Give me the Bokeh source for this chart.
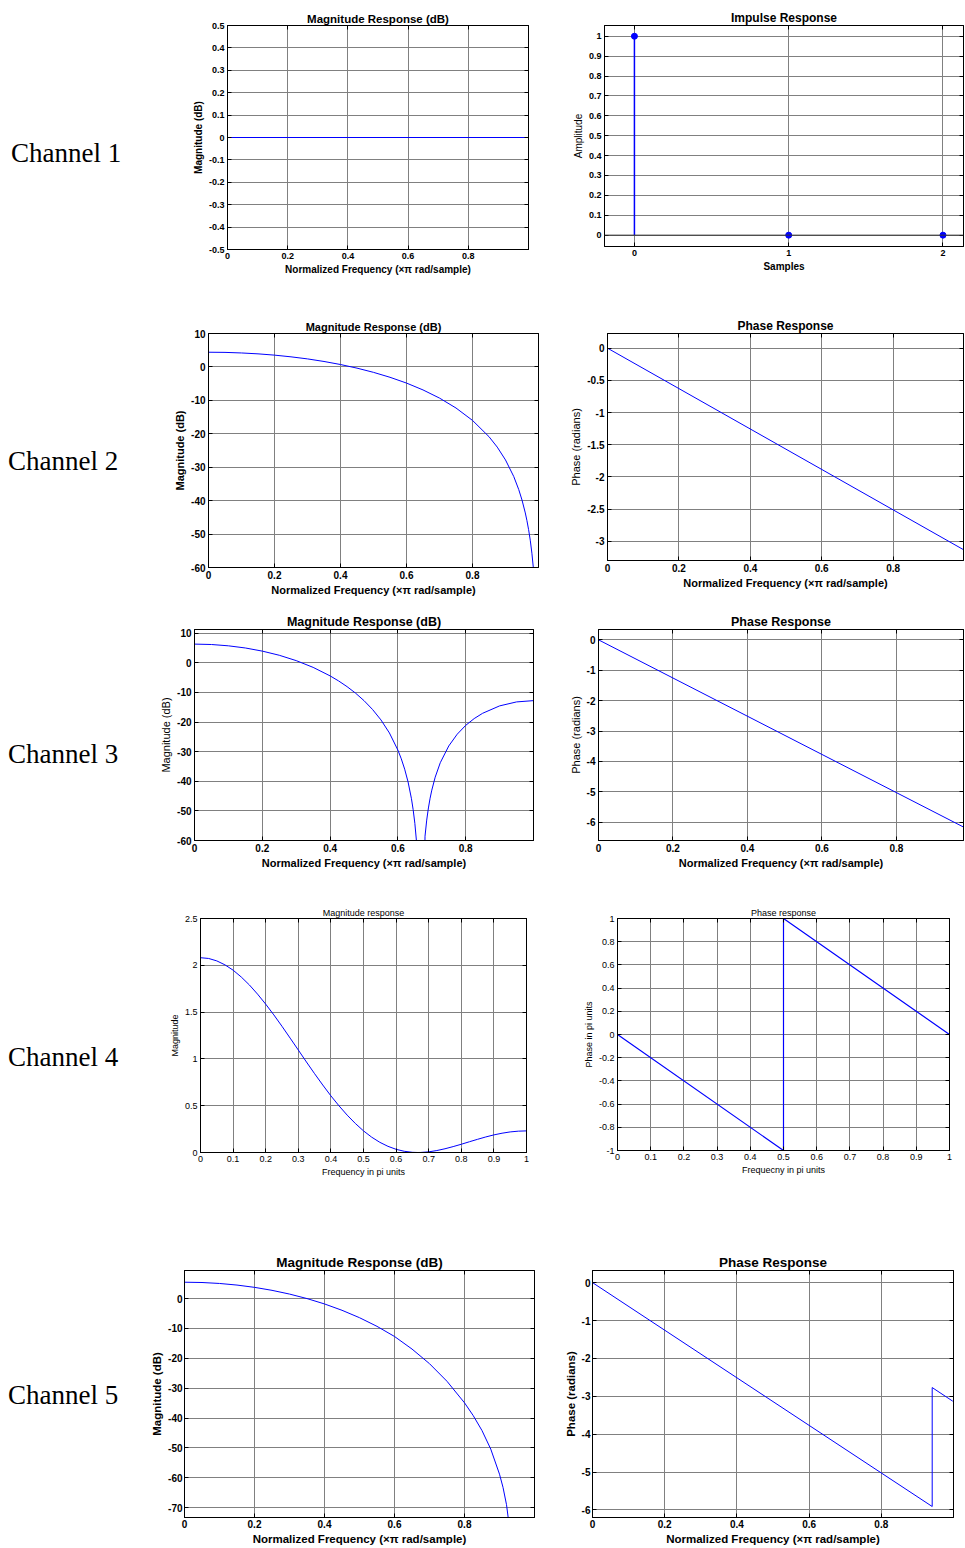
from bokeh.plotting import figure
from bokeh.models import Range1d, FixedTicker, LinearAxis, Div, Span, CustomJSTickFormatter
from bokeh.layouts import row, column
from bokeh.embed import file_html
from bokeh.resources import INLINE

# ---------------- data ----------------
# Channel 1
ch1_freq = [0.0, 1.0]
ch1_mag_db = [0.0, 0.0]
ch1_samples = [0, 1, 2]
ch1_impulse = [1.0, 0.0, 0.0]

# Channel 2
ch2_freq = [0, 0.05, 0.1, 0.15, 0.2, 0.25, 0.3, 0.35, 0.4, 0.45, 0.5, 0.55, 0.6, 0.65,
            0.7, 0.75, 0.8, 0.85, 0.875, 0.9, 0.925, 0.94, 0.95, 0.96, 0.965, 0.97,
            0.975, 0.98, 0.985]
ch2_mag_db = [4.40, 4.35, 4.18, 3.91, 3.53, 3.02, 2.40, 1.63, 0.72, -0.36, -1.62, -3.10,
              -4.83, -6.88, -9.32, -12.29, -16.00, -20.87, -23.99, -27.83, -32.79, -36.65,
              -39.81, -43.68, -46.0, -48.68, -51.84, -55.72, -60.7]
ch2_phase_freq = [0.0, 0.998]
ch2_phase = [0.0, -3.135]

# Channel 3
ch3_freq = [0, 0.05, 0.1, 0.15, 0.2, 0.25, 0.3, 0.35, 0.4, 0.425, 0.45, 0.475, 0.5, 0.525,
            0.55, 0.575, 0.6, 0.61, 0.62, 0.63, 0.64, 0.645, 0.65, 0.655, 0.6667, 0.68,
            0.685, 0.69, 0.695, 0.7, 0.71, 0.725, 0.75, 0.775, 0.8, 0.825, 0.85, 0.9,
            0.95, 1.0]
ch3_mag_db = [6.32, 6.18, 5.74, 5.01, 3.95, 2.55, 0.74, -1.54, -4.41, -6.11, -8.04, -10.23,
              -12.77, -15.73, -19.28, -23.69, -29.48, -32.42, -35.92, -40.23, -45.90,
              -49.58, -54.21, -60.48, -150.0, -58.55, -53.11, -49.01, -45.72, -42.99,
              -38.61, -33.74, -28.08, -24.10, -21.12, -18.83, -17.04, -14.55, -13.20, -12.77]
ch3_phase_freq = [0.0, 0.998]
ch3_phase = [0.0, -6.27]

# Channel 4
ch4_freq = [0, 0.025, 0.05, 0.075, 0.1, 0.125, 0.15, 0.175, 0.2, 0.225, 0.25, 0.275, 0.3,
            0.325, 0.35, 0.375, 0.4, 0.425, 0.45, 0.475, 0.5, 0.525, 0.55, 0.575, 0.6,
            0.625, 0.65, 0.6667, 0.675, 0.7, 0.725, 0.75, 0.775, 0.8, 0.825, 0.85, 0.875,
            0.9, 0.925, 0.95, 0.975, 1.0]
ch4_mag = [2.081, 2.073, 2.047, 2.005, 1.948, 1.875, 1.790, 1.692, 1.585, 1.470, 1.348,
           1.222, 1.095, 0.967, 0.842, 0.721, 0.605, 0.498, 0.399, 0.310, 0.231, 0.164,
           0.109, 0.066, 0.034, 0.013, 0.002, 0.0, 0.0005, 0.007, 0.021, 0.040, 0.063,
           0.088, 0.115, 0.141, 0.166, 0.188, 0.206, 0.220, 0.228, 0.231]
ch4_phase_freq = [0.0, 0.5, 0.5, 1.0]
ch4_phase = [0.0, -1.0, 1.0, 0.0]

# Channel 5
ch5_freq = [0, 0.05, 0.1, 0.15, 0.2, 0.25, 0.3, 0.35, 0.4, 0.45, 0.5, 0.55, 0.6, 0.65,
            0.7, 0.75, 0.8, 0.825, 0.85, 0.875, 0.9, 0.91, 0.92, 0.93, 0.941]
ch5_mag_db = [5.48, 5.38, 5.06, 4.52, 3.76, 2.76, 1.51, 0.0, -1.80, -3.92, -6.40, -9.30,
              -12.69, -16.9, -21.8, -27.7, -34.9, -39.2, -44.2, -50.4, -58.8, -63.2,
              -69.0, -78.0, -150.0]
ch5_phase_freq = [0.0, 0.941, 0.941, 0.998]
ch5_phase = [0.0, -5.91, -2.77, -3.13]

# tick values
db_xticks = [0, 0.2, 0.4, 0.6, 0.8]
ch1_mag_yticks = [-0.5, -0.4, -0.3, -0.2, -0.1, 0, 0.1, 0.2, 0.3, 0.4, 0.5]
ch1_imp_xticks = [0, 1, 2]
ch1_imp_yticks = [0, 0.1, 0.2, 0.3, 0.4, 0.5, 0.6, 0.7, 0.8, 0.9, 1]
ch2_mag_yticks = [-60, -50, -40, -30, -20, -10, 0, 10]
ch2_ph_yticks = [-3, -2.5, -2, -1.5, -1, -0.5, 0]
ch3_mag_yticks = [-60, -50, -40, -30, -20, -10, 0, 10]
ch3_ph_yticks = [-6, -5, -4, -3, -2, -1, 0]
ch4_xticks = [0, 0.1, 0.2, 0.3, 0.4, 0.5, 0.6, 0.7, 0.8, 0.9, 1]
ch4_mag_yticks = [0, 0.5, 1, 1.5, 2, 2.5]
ch4_ph_yticks = [-1, -0.8, -0.6, -0.4, -0.2, 0, 0.2, 0.4, 0.6, 0.8, 1]
ch5_mag_yticks = [-70, -60, -50, -40, -30, -20, -10, 0]
ch5_ph_yticks = [-6, -5, -4, -3, -2, -1, 0]

channel_names = ["Channel 1", "Channel 2", "Channel 3", "Channel 4", "Channel 5"]

XLAB = "Normalized Frequency (\u00d7\u03c0 rad/sample)"

# ---------------- styling helpers ----------------
FONT = "Liberation Sans"
BLUE = "#0000ff"
GRID = "#808080"
W0 = 136          # width of the channel-label column
TOTAL_W = 965


def make_fig(frame, band_top, band_h, left_edge, right_edge, xr, yr):
    x0, w, y0, h = frame
    p = figure(frame_width=w, frame_height=h,
               x_range=Range1d(*xr), y_range=Range1d(*yr),
               output_backend="svg", toolbar_location=None,
               min_border_left=x0 - left_edge,
               min_border_right=right_edge - (x0 + w),
               min_border_top=y0 - band_top,
               min_border_bottom=band_top + band_h - (y0 + h))
    return p


def style(p, title, xlabel, ylabel, xticks, yticks, fs, weights, standoff=3):
    fs_title, fs_label, fs_tick = fs
    w_title, w_xl, w_yl, w_tick = weights
    p.title.text = title
    p.title.text_font = FONT
    p.title.text_font_size = f"{fs_title}px"
    p.title.text_font_style = w_title
    p.title.align = "center"
    p.title.standoff = 2
    p.title.text_color = "black"
    p.outline_line_color = "black"
    p.outline_line_width = 1
    p.outline_line_alpha = 1.0
    p.background_fill_color = "white"
    p.border_fill_color = "white"
    fmt = CustomJSTickFormatter(code="return String(tick);")
    for ax, ticks, lab, wl in ((p.xaxis[0], xticks, xlabel, w_xl),
                               (p.yaxis[0], yticks, ylabel, w_yl)):
        ax.ticker = FixedTicker(ticks=ticks)
        ax.formatter = fmt
        ax.axis_label = lab
        ax.axis_label_text_font = FONT
        ax.axis_label_text_font_size = f"{fs_label}px"
        ax.axis_label_text_font_style = wl
        ax.axis_label_text_color = "black"
        ax.axis_label_standoff = 2
        ax.major_label_text_font = FONT
        ax.major_label_text_font_size = f"{fs_tick}px"
        ax.major_label_text_font_style = w_tick
        ax.major_label_text_color = "black"
        ax.major_label_standoff = standoff
        ax.major_tick_in = 4
        ax.major_tick_out = 0
        ax.major_tick_line_color = "black"
        ax.minor_tick_line_color = None
        ax.axis_line_color = "black"
    p.xgrid.ticker = FixedTicker(ticks=xticks)
    p.ygrid.ticker = FixedTicker(ticks=yticks)
    for g in (p.xgrid[0], p.ygrid[0]):
        g.grid_line_color = GRID
        g.grid_line_width = 1
        g.grid_line_alpha = 1.0
    # tick marks on the top and right edges of the box (no labels)
    blank = CustomJSTickFormatter(code="return '';")
    for loc, ticks in (("above", xticks), ("right", yticks)):
        ax = LinearAxis(ticker=FixedTicker(ticks=ticks), formatter=blank, axis_label=None,
                        major_label_text_font_size="1px", major_label_text_color=None,
                        major_label_standoff=0,
                        major_tick_in=4, major_tick_out=0, minor_tick_line_color=None,
                        major_tick_line_color="black", axis_line_color="black")
        p.add_layout(ax, loc)


def chan_div(text, band_h, pad_left, baseline_rel):
    top = baseline_rel - 24.6
    html = ('<div style="font-family:\'Liberation Serif\',\'Times New Roman\',serif;'
            'font-size:27px;line-height:31px;color:#000;white-space:nowrap;'
            f'padding-top:{top:.0f}px;padding-left:{pad_left}px">{text}</div>')
    return Div(text=html, width=W0, height=band_h, margin=0)


def build_row(idx, band_top, band_h, fL, fR, xrL, yrL, xrR, yrR, label_pad, baseline):
    split = fL[0] + fL[1] + 22
    pL = make_fig(fL, band_top, band_h, W0, split, xrL, yrL)
    pR = make_fig(fR, band_top, band_h, split, TOTAL_W, xrR, yrR)
    d = chan_div(channel_names[idx], band_h, label_pad, baseline - band_top)
    return d, pL, pR


B = ("bold", "bold", "bold", "bold")
BN = ("bold", "bold", "normal", "bold")
NRM = ("normal", "normal", "normal", "normal")

# ---------- Row 1 ----------
d1, p1L, p1R = build_row(0, 0, 300, (227, 301, 25, 224), (604, 359, 25, 221),
                         (0, 1), (-0.5, 0.5), (-0.194, 2.133), (-0.057, 1.054), 11, 163)
p1L.line(ch1_freq, ch1_mag_db, line_color=BLUE, line_width=1.2)
style(p1L, "Magnitude Response (dB)", XLAB, "Magnitude (dB)", db_xticks, ch1_mag_yticks,
      (11.5, 10, 9), B)
p1R.add_layout(Span(location=0, dimension="width", line_color="#333333", line_width=1))
p1R.segment(x0=ch1_samples, y0=[0.0] * len(ch1_samples), x1=ch1_samples, y1=ch1_impulse,
            line_color=BLUE, line_width=1.5)
p1R.scatter(ch1_samples, ch1_impulse, size=6, color=BLUE)
style(p1R, "Impulse Response", "Samples", "Amplitude", ch1_imp_xticks, ch1_imp_yticks,
      (12, 10, 9), BN)

# ---------- Row 2 ----------
d2, p2L, p2R = build_row(1, 300, 300, (208, 330, 333, 234), (607, 356, 333, 227),
                         (0, 1), (-60, 10), (0, 0.997), (-3.30, 0.228), 8, 471)
p2L.line(ch2_freq, ch2_mag_db, line_color=BLUE, line_width=1)
style(p2L, "Magnitude Response (dB)", XLAB, "Magnitude (dB)", db_xticks, ch2_mag_yticks,
      (11, 11, 10), B)
p2R.line(ch2_phase_freq, ch2_phase, line_color=BLUE, line_width=1)
style(p2R, "Phase Response", XLAB, "Phase (radians)", db_xticks, ch2_ph_yticks,
      (12, 11, 10), BN)

# ---------- Row 3 ----------
d3, p3L, p3R = build_row(2, 600, 280, (194, 339, 629, 211), (598, 365, 629, 211),
                         (0, 1), (-60, 11.25), (0, 0.980), (-6.6, 0.34), 8, 764)
p3L.line(ch3_freq, ch3_mag_db, line_color=BLUE, line_width=1)
style(p3L, "Magnitude Response (dB)", XLAB, "Magnitude (dB)", db_xticks, ch3_mag_yticks,
      (12.5, 11, 10), BN)
p3R.line(ch3_phase_freq, ch3_phase, line_color=BLUE, line_width=1)
style(p3R, "Phase Response", XLAB, "Phase (radians)", db_xticks, ch3_ph_yticks,
      (12.5, 11, 10), BN)

# ---------- Row 4 ----------
d4, p4L, p4R = build_row(3, 880, 320, (200, 326, 918, 234), (617, 332, 918, 232),
                         (0, 1), (0, 2.5), (0, 1), (-1, 1), 8, 1067)
p4L.line(ch4_freq, ch4_mag, line_color=BLUE, line_width=1)
style(p4L, "Magnitude response", "Frequency in pi units", "Magnitude", ch4_xticks,
      ch4_mag_yticks, (9, 9, 9), NRM)
p4R.line(ch4_phase_freq, ch4_phase, line_color=BLUE, line_width=1.2)
style(p4R, "Phase response", "Frequecny in pi units", "Phase in pi units", ch4_xticks,
      ch4_ph_yticks, (9, 9, 9), NRM)

# ---------- Row 5 ----------
d5, p5L, p5R = build_row(4, 1200, 347, (184, 350, 1270, 247), (592, 361, 1270, 247),
                         (0, 1), (-73.3, 9.4), (0, 1), (-6.2, 0.32), 8, 1405)
p5L.line(ch5_freq, ch5_mag_db, line_color=BLUE, line_width=1)
style(p5L, "Magnitude Response (dB)", XLAB, "Magnitude (dB)", db_xticks, ch5_mag_yticks,
      (13.5, 11.5, 10), B, standoff=2)
p5R.line(ch5_phase_freq, ch5_phase, line_color=BLUE, line_width=1)
style(p5R, "Phase Response", XLAB, "Phase (radians)", db_xticks, ch5_ph_yticks,
      (13.5, 11.5, 10), B, standoff=2)

layout = column(row(d1, p1L, p1R), row(d2, p2L, p2R), row(d3, p3L, p3R),
                row(d4, p4L, p4R), row(d5, p5L, p5R))

open("out.html", "w").write(file_html(layout, INLINE, "Channel responses"))
